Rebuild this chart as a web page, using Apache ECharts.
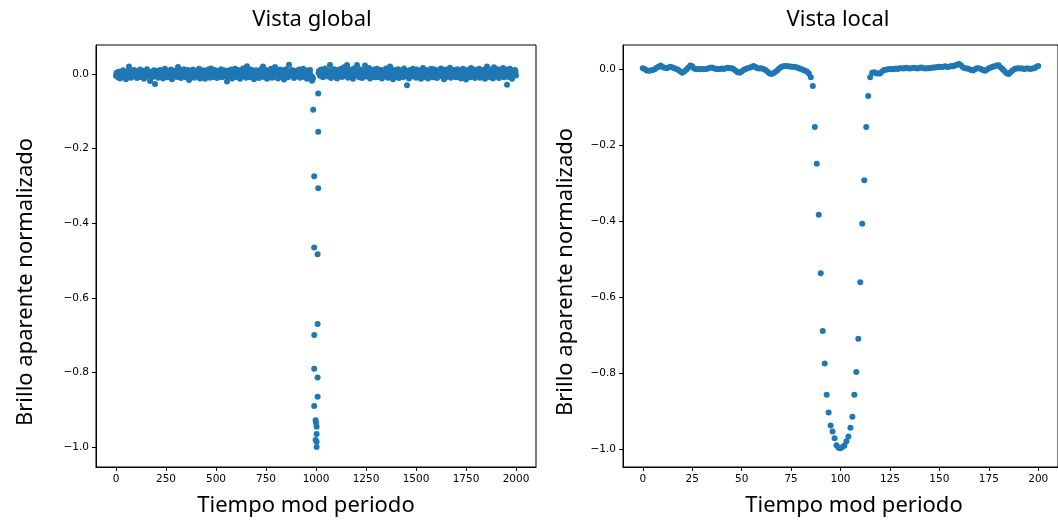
<!DOCTYPE html>
<html>
<head>
<meta charset="utf-8">
<script src="https://cdn.jsdelivr.net/npm/echarts@6/dist/echarts.min.js"></script>
<style>
html,body{margin:0;padding:0;background:#fff;}
#chart{width:1058px;height:525px;}
</style>
</head>
<body>
<div id="chart"></div>
<script>
// ---------- DATA ----------
const titles = ['Vista global', 'Vista local'];
const xAxisTitle = 'Tiempo mod periodo';
const yAxisTitle = 'Brillo aparente normalizado';

const globalXTicks = [0, 250, 500, 750, 1000, 1250, 1500, 1750, 2000];
const localXTicks = [0, 25, 50, 75, 100, 125, 150, 175, 200];
const yTicks = [-1.0, -0.8, -0.6, -0.4, -0.2, 0.0];

// Global view: out-of-transit band, brightness in thousandths.
// Set A: times 0, 5, 10, ... 2000 ; Set B: times 2.5, 7.5, ... 1997.5
const globalBandStep = 5;
const globalBandMilliA = [
 -5, 3, -9, 6, -12, 2, -3, 10, -7, 1, -14, 5, 8, 20, -4, -10, 4, -6, 11, -2,
 7, -11, 2, -5, 12, -8, 0, 9, -13, 4, -3, 13, -6, 1, -19, 6, -9, 3, 10, -27,
 -4, 8, -10, 2, 11, -7, 5, -12, 0, 14, -5, 3, -9, 7, -2, 12, -14, 4, -6, 9,
 1, -8, 19, -3, 10, -11, 6, -5, 13, -1, -9, 4, 11, -16, 2, 8, -6, 12, -10, 3,
 -7, 9, -2, 14, -12, 5, -4, 10, 0, -13, 7, -6, 12, 2, -10, 15, -3, 6, -8, 11,
 -1, -11, 8, 4, -6, 13, -9, 1, 10, -5, -3, -20, 9, -7, 3, 12, -12, 6, -2, 14,
 -8, 4, 11, -4, -13, 7, 0, 15, -6, 9, -10, 21, -1, 5, -9, 12, -3, 8, -14, 2,
 10, -5, 3, -11, 6, 13, -2, 20, -8, 4, 11, -13, 1, 7, -6, 14, -10, 3, 9, 19,
 -4, 8, -12, 5, 12, -7, 0, 10, -15, 3, 13, -5, -9, 25, 6, -2, 11, 7, -11, 4,
 9, -6, 2, 12, -10, 5, -3, 14, -8, 1, 10, -13, 6, -4, 11, -7, -18, -12, null, null,
 null, null, null, 8, -5, 12, 3, -9, 6, 15, -2, 10, -7, 4, 24, -11, 9, 1, 13, -6,
 5, -12, 11, 2, -4, 14, -8, 7, 18, -1, 10, 24, -10, 3, 12, -6, 8, -13, 15, 1,
 -3, 24, 6, -9, 13, 0, -11, 9, 4, 23, -7, 11, -2, 16, -12, 5, 8, -5, 12, -9,
 3, 14, -8, 6, -3, 11, -12, 1, 9, -6, 15, -1, -10, 7, 20, -4, 12, -14, 4, 10,
 -7, 2, 13, -11, 6, -2, 10, -9, 15, -5, 4, -30, 8, -12, 11, 1, -6, 14, -3, 7,
 -10, 12, 3, -7, 9, -13, 5, 16, -1, -8, 11, 2, -12, 8, -4, 14, 0, -9, 13, -5,
 6, -11, 10, 1, -6, 15, -3, 9, -14, 4, 12, -8, 2, -2, 17, -10, 7, -5, 11, 0,
 -9, 13, 4, -7, 10, -12, 1, 14, -4, 8, -15, 6, 11, -1, -9, 16, 3, -6, 12, -11,
 5, 9, -3, 14, -10, 2, 11, -7, 7, -13, 15, 20, -5, 4, -9, 12, 0, -12, 18, -2,
 10, -6, 13, -11, 3, 8, -4, 16, -9, 1, 12, -29, 6, -8, 14, -3, -13, 9, 2, 11,
 -4
];
const globalBandMilliB = [
 2, -4, 6, -1, -6, 3, 0, -3, 5, -7, 1, 4, -2, 7, -5, 0, 3, -6, 2, -1,
 -3, 5, -6, 1, 7, -2, -5, 4, 0, -4, 6, -1, 3, -7, 2, 5, -3, 0, -6, 4,
 1, -5, 3, 7, -2, -6, 4, 0, -3, 6, 2, -7, 5, -1, -4, 3, 0, 6, -5, 1,
 -2, 4, -6, 2, 5, -1, -4, 7, 0, -5, 3, 1, -3, 6, -7, 2, 4, -2, 0, 5,
 3, -3, 0, 6, -5, 1, 4, -7, 2, -1, 5, -4, 0, 7, -2, -6, 3, 1, -3, 4,
 -5, 2, 6, -1, -3, 4, 0, -6, 5, 2, -2, -7, 3, 1, 6, -4, 0, 5, -1, -6,
 4, -2, 1, 7, -5, 0, 3, -3, 6, -1, -6, 2, 5, -4, 1, 7, -2, 0, -5, 3,
 -1, 6, -4, 2, 0, 5, -6, 3, -2, 7, 1, -5, 4, 0, -3, 6, -1, 2, -7, 4,
 2, -5, 3, 0, 6, -2, -4, 5, 1, -6, 4, -1, 7, -3, 0, 2, -5, 6, -2, 1,
 -4, 3, 0, 6, -2, -5, 4, 1, -3, 7, -1, -6, 2, 5, -2, -7, -9, null, null, null,
 null, null, 3, -1, 5, -4, 2, 7, -3, 0, 6, -2, 4, -5, 1, 7, -3, 2, -6, 5,
 0, -4, 6, 3, -2, 5, -6, 1, 4, -1, 7, -3, 2, -5, 0, 6, -2, 3, -4, 1,
 5, -3, 2, -6, 4, 0, 7, -2, 1, -5, 3, 6, -1, -4, 2, 5, -7, 0, 4, -2,
 -1, 5, -3, 2, 6, -5, 0, 4, -2, 7, -6, 1, 3, -1, 5, -4, 0, 6, -3, 2,
 4, -2, -6, 3, 0, 5, -4, 1, 7, -3, 2, -7, 4, 0, -2, 6, -5, 3, 1, -1,
 -3, 6, 0, -5, 4, 2, -1, 7, -4, 1, 5, -2, -6, 3, 0, 6, -3, 2, -5, 4,
 1, -4, 5, 0, -2, 6, -6, 3, -1, 4, 7, -3, 0, 2, -5, 5, -1, -4, 6, 0,
 -2, 4, -5, 2, 6, -1, -4, 5, 0, -6, 3, 1, -3, 7, -2, 4, 0, -5, 2, 6,
 3, -1, 5, -4, 0, 6, -3, 2, -6, 4, 1, -2, 7, -5, 3, 0, -4, 5, -1, 2,
 -5, 2, 6, -3, 1, 4, -6, 0, 5, -2, 3, -7, 2, 6, -1, -4, 4, 0, -3, 5
];

// Global view: in-transit points
const globalDipX = [1011, 986, 1011, 991, 1011, 991, 1008, 1008, 991, 991, 1008, 1008, 991, 998, 1000, 1003, 1003, 998, 1003, 1003];
const globalDipY = [-0.052, -0.096, -0.155, -0.274, -0.306, -0.465, -0.483, -0.670, -0.700, -0.790, -0.814, -0.865, -0.890, -0.928, -0.935, -0.946, -0.965, -0.981, -0.986, -1.000];

// Local view: brightness in thousandths for time 0..200 (step 1)
const localStart = 0;
const localMilli = [
 3, 1, -3, -4, -3, -2, 0, 4, 7, 10, 6, 4, 3, 5, 7, 5, 3, 1, -2, -6,
 -9, -6, -1, 4, 10, 8, 2, 0, 1, 0, 1, 0, 1, 2, 4, 5, 3, 1, 0, 1,
 2, 1, 3, 4, 3, 3, 0, -4, -8, -9, -6, -2, 1, 3, 4, 6, 9, 6, 3, 2,
 3, 1, -2, -6, -10, -12, -10, -7, -3, 2, 6, 8, 9, 8, 8, 7, 7, 6, 5, 3,
 1, -1, -4, -6, -11, -21, -44, -152, -249, -383, -537, -689, -775, -857, -904, -938, -954, -972, -990, -997,
 -998, -995, -991, -980, -967, -944, -915, -857, -797, -710, -561, -407, -292, -152, -70, -21, -9, -8, -10, -11,
 -11, -6, -2, -1, 0, 1, 0, 1, 2, 1, 3, 3, 2, 4, 3, 2, 3, 4, 3, 2,
 4, 5, 3, 2, 3, 3, 4, 5, 5, 6, 7, 6, 7, 8, 6, 7, 9, 8, 10, 13,
 14, 10, 5, 3, 2, 1, -2, -3, 0, 3, 3, 1, -2, -4, -1, 3, 5, 7, 8, 10,
 11, 5, 0, -5, -10, -12, -8, -3, 1, 2, 3, 2, 2, 1, 2, 2, 1, 2, 3, 6,
 9
];

// ---------- BUILD ----------
const globalPoints = [];
globalBandMilliA.forEach((v, i) => { if (v !== null) globalPoints.push([i * globalBandStep, v / 1000]); });
globalBandMilliB.forEach((v, i) => { if (v !== null) globalPoints.push([i * globalBandStep + globalBandStep / 2, v / 1000]); });
globalDipX.forEach((x, i) => globalPoints.push([x, globalDipY[i]]));
const localPoints = localMilli.map((v, i) => [localStart + i, v / 1000]);

const blue = '#1f77b4';
const tickFont = { fontFamily: 'DejaVu Sans', fontSize: 10.5, color: '#000' };
const labelFont = '22px "Noto Sans"';

function xAxisCfg(gi, min, max, ticks) {
  return {
    type: 'value', gridIndex: gi, min: min, max: max,
    axisLine: { show: true, onZero: false, lineStyle: { color: '#000', width: 1 } },
    axisTick: { show: true, length: 4, lineStyle: { color: '#000' }, customValues: ticks },
    axisLabel: Object.assign({ margin: 7, customValues: ticks, formatter: v => String(v) }, tickFont),
    splitLine: { show: false }
  };
}
function yAxisCfg(gi, min, max) {
  return {
    type: 'value', gridIndex: gi, min: min, max: max,
    axisLine: { show: true, onZero: false, lineStyle: { color: '#000', width: 1 } },
    axisTick: { show: true, length: 4, lineStyle: { color: '#000' }, customValues: yTicks },
    axisLabel: Object.assign({ margin: 7, customValues: yTicks, formatter: v => (v < 0 ? '\u2212' : '') + Math.abs(v).toFixed(1) }, tickFont),
    splitLine: { show: false }
  };
}

const chart = echarts.init(document.getElementById('chart'), null, { renderer: 'canvas' });
chart.setOption({
  animation: false,
  backgroundColor: '#fff',
  grid: [
    { left: 96, top: 45, width: 440, height: 422, show: true, borderColor: '#000', borderWidth: 1, backgroundColor: 'transparent' },
    { left: 623, top: 45, width: 440, height: 422, show: true, borderColor: '#000', borderWidth: 1, backgroundColor: 'transparent' }
  ],
  xAxis: [ xAxisCfg(0, -100, 2100, globalXTicks), xAxisCfg(1, -10, 210, localXTicks) ],
  yAxis: [ yAxisCfg(0, -1.0536, 0.0777), yAxisCfg(1, -1.0475, 0.0641) ],
  series: [
    { type: 'scatter', xAxisIndex: 0, yAxisIndex: 0, data: globalPoints, symbolSize: 6, itemStyle: { color: blue, opacity: 1 }, emphasis: { disabled: true }, silent: true, large: false },
    { type: 'scatter', xAxisIndex: 1, yAxisIndex: 1, data: localPoints, symbolSize: 6, itemStyle: { color: blue, opacity: 1 }, emphasis: { disabled: true }, silent: true }
  ],
  graphic: [
    { type: 'text', x: 312, y: 20, style: { text: titles[0], font: labelFont, fill: '#000', align: 'center', verticalAlign: 'middle' } },
    { type: 'text', x: 838, y: 20, style: { text: titles[1], font: labelFont, fill: '#000', align: 'center', verticalAlign: 'middle' } },
    { type: 'text', x: 306, y: 506, style: { text: xAxisTitle, font: labelFont, fill: '#000', align: 'center', verticalAlign: 'middle' } },
    { type: 'text', x: 854, y: 506, style: { text: xAxisTitle, font: labelFont, fill: '#000', align: 'center', verticalAlign: 'middle' } },
    { type: 'text', x: 26, y: 282, rotation: Math.PI / 2, style: { text: yAxisTitle, font: labelFont, fill: '#000', align: 'center', verticalAlign: 'middle' } },
    { type: 'text', x: 566, y: 272, rotation: Math.PI / 2, style: { text: yAxisTitle, font: labelFont, fill: '#000', align: 'center', verticalAlign: 'middle' } }
  ]
});
</script>
</body>
</html>
